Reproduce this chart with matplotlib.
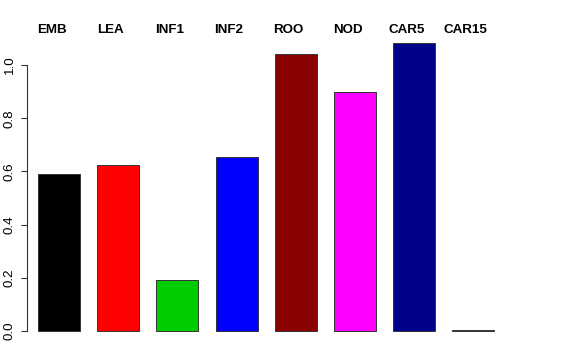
import matplotlib
matplotlib.use("Agg")
import matplotlib.pyplot as plt

organs = ["EMB", "LEA", "INF1", "INF2", "ROO", "NOD", "CAR5", "CAR15"]
values = [0.590, 0.624, 0.192, 0.654, 1.041, 0.898, 1.083, 0.003]
colors = ["black", "red", "#00CD00", "blue", "#8B0000", "magenta", "#00008B", "white"]
yticks = [0.0, 0.2, 0.4, 0.6, 0.8, 1.0]

plt.rcParams["font.family"] = ["Liberation Sans", "DejaVu Sans"]

W, H = 576, 360
fig = plt.figure(figsize=(W / 100, H / 100), dpi=100)
left_px, right_px = 27, 560
top_px, bottom_px = 31, 343
ax = fig.add_axes([left_px / W, (H - bottom_px) / H,
                   (right_px - left_px) / W, (bottom_px - top_px) / H])

step = 59.2
x = list(range(len(organs)))
ax.bar(x, values, width=42 / step, color=colors, edgecolor="#333333", linewidth=0.7)

ax.set_xlim(-(59 - left_px) / step, (right_px - 59) / step)
ax.set_ylim(-(bottom_px - 331) / 266, (331 - top_px) / 266)

# labels above the bars, nudged a little to the left
for xi, name in zip(x, organs):
    ax.text(xi - 7.5 / step, (331 - 30) / 266, name, ha="center", va="center",
            fontsize=9.6, fontweight="bold", clip_on=False)

for s in ["top", "right", "bottom"]:
    ax.spines[s].set_visible(False)
ax.spines["left"].set_bounds(0, 1.0)
ax.spines["left"].set_color("#333333")
ax.set_xticks([])
ax.set_yticks(yticks)
ax.set_yticklabels([f"{t:.1f}" for t in yticks], rotation=90, va="center", fontsize=9.6)
ax.tick_params(axis="y", length=4.3, width=0.8, color="#333333", pad=4)

fig.savefig("out.png", dpi=100)
